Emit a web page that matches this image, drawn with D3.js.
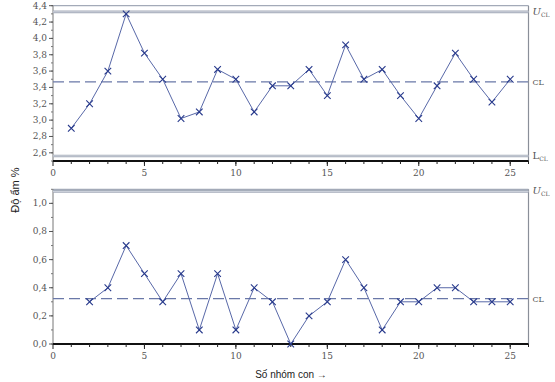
<!DOCTYPE html>
<html><head><meta charset="utf-8">
<script src="https://cdn.jsdelivr.net/npm/d3@7"></script>
<style>body{margin:0;background:#fff}svg{display:block}</style>
</head><body><svg id="c" width="555" height="382"></svg>
<script>
const subgroups = d3.range(1, 26);
const meanValues = [2.9,3.2,3.6,4.3,3.82,3.5,3.02,3.1,3.62,3.5,3.1,3.42,3.42,3.62,3.3,3.92,3.5,3.62,3.3,3.02,3.42,3.82,3.5,3.22,3.5];
const rangeSubgroups = d3.range(2, 26);
const rangeValues = [0.3,0.4,0.7,0.5,0.3,0.5,0.1,0.5,0.1,0.4,0.3,0.0,0.2,0.3,0.6,0.4,0.1,0.3,0.3,0.4,0.4,0.3,0.3,0.3];
const meanLimits = {ucl: 4.325, cl: 3.468, lcl: 2.562};
const rangeLimits = {ucl: 1.085, cl: 0.322};
const meanTicks = [2.6,2.8,3.0,3.2,3.4,3.6,3.8,4.0,4.2,4.4];
const rangeTicks = [0.0,0.2,0.4,0.6,0.8,1.0];
const xTicks = [0,5,10,15,20,25];

const svg = d3.select("#c");
const X0 = 53, X1 = 528.5;
const x = d3.scaleLinear().domain([0, 26]).range([X0, X1]);
const fmt = d => d3.format(".1f")(d).replace(".", ",");
const lineCol = "#5868a8", markCol = "#283a8c", limCol = "#a3aab8";

function panel(yDomain, yRange, ticks, minorStep, xs, vals, lim, showLcl) {
  const y = d3.scaleLinear().domain(yDomain).range(yRange);
  const g = svg.append("g");
  const top = yRange[1], bot = yRange[0];
  g.append("line").attr("x1", X0).attr("x2", X1).attr("y1", top).attr("y2", top).attr("stroke", limCol).attr("stroke-width", 1.2);
  g.append("line").attr("x1", X1).attr("x2", X1).attr("y1", top).attr("y2", bot).attr("stroke", "#8a8f99").attr("stroke-width", 1.2);
  g.append("line").attr("x1", X0).attr("x2", X0).attr("y1", top).attr("y2", bot).attr("stroke", "#777").attr("stroke-width", 1);
  const minors = d3.range(yDomain[0], yDomain[1] + 1e-9, minorStep);
  g.selectAll(".ym").data(minors).join("line").attr("x1", X0 - 2).attr("x2", X0).attr("y1", d => y(d)).attr("y2", d => y(d)).attr("stroke", "#777");
  g.selectAll(".yt").data(ticks).join("line").attr("x1", X0 - 4).attr("x2", X0).attr("y1", d => y(d)).attr("y2", d => y(d)).attr("stroke", "#555");
  g.selectAll(".yl").data(ticks).join("text").attr("x", X0 - 6).attr("y", d => y(d) + 3).attr("text-anchor", "end")
    .attr("font-family", "DejaVu Serif").attr("font-size", 9).attr("fill", "#555").text(fmt);
  const dbl = (v) => {
    g.append("line").attr("x1", X0).attr("x2", X1).attr("y1", y(v)).attr("y2", y(v)).attr("stroke", limCol).attr("stroke-width", 2.6);
    g.append("line").attr("x1", X0).attr("x2", X1).attr("y1", y(v)).attr("y2", y(v)).attr("stroke", "#e4e7ee").attr("stroke-width", 0.7);
  };
  dbl(lim.ucl);
  if (showLcl) dbl(lim.lcl);
  g.append("line").attr("x1", X0).attr("x2", X1).attr("y1", y(lim.cl)).attr("y2", y(lim.cl)).attr("stroke", "#6a78a8").attr("stroke-width", 1.2).attr("stroke-dasharray", "11,5");
  g.append("line").attr("x1", X0).attr("x2", X1).attr("y1", bot).attr("y2", bot).attr("stroke", "#111").attr("stroke-width", 2);
  g.selectAll(".xm").data(d3.range(1, 27)).join("line").attr("x1", d => x(d)).attr("x2", d => x(d)).attr("y1", bot).attr("y2", bot + 3).attr("stroke", "#222");
  g.selectAll(".xt").data(xTicks).join("line").attr("x1", d => x(d)).attr("x2", d => x(d)).attr("y1", bot).attr("y2", bot + 5).attr("stroke", "#222");
  g.selectAll(".xl").data(xTicks).join("text").attr("x", d => x(d)).attr("y", bot + 15).attr("text-anchor", "middle")
    .attr("font-family", "DejaVu Serif").attr("font-size", 9).attr("fill", "#555").text(d => d);
  const pts = xs.map((s, i) => [s, vals[i]]);
  g.append("path").attr("d", d3.line().x(d => x(d[0])).y(d => y(d[1]))(pts)).attr("fill", "none").attr("stroke", lineCol).attr("stroke-width", 1);
  const m = 3.3;
  g.selectAll(".mk").data(pts).join("path").attr("d", d => {
    const cx = x(d[0]), cy = y(d[1]);
    return `M${cx - m},${cy - m}L${cx + m},${cy + m}M${cx - m},${cy + m}L${cx + m},${cy - m}`;
  }).attr("stroke", markCol).attr("stroke-width", 1.1).attr("fill", "none");
  const lab = (v, main, italic) => {
    const t = g.append("text").attr("x", X1 + 4).attr("y", y(v) + 3).attr("font-family", "DejaVu Serif").attr("font-size", 10).attr("fill", "#555");
    const s = t.append("tspan").text(main);
    if (italic) s.attr("font-style", "italic");
    t.append("tspan").attr("font-size", 6).attr("dy", 2).text("CL");
  };
  lab(lim.ucl, "U", true);
  g.append("text").attr("x", X1 + 4).attr("y", y(lim.cl) + 3).attr("font-family", "DejaVu Serif").attr("font-size", 8).attr("fill", "#555").text("CL");
  if (showLcl) lab(lim.lcl, "L", false);
}

panel([2.5, 4.4], [161, 5.7], meanTicks, 0.1, subgroups, meanValues, meanLimits, true);
panel([0, 1.1], [344, 189.3], rangeTicks, 0.1, rangeSubgroups, rangeValues, rangeLimits, false);

svg.append("text").attr("transform", "translate(19,190) rotate(-90)").attr("text-anchor", "middle")
  .attr("font-family", "Liberation Sans").attr("font-size", 11).attr("fill", "#222").text("Độ ẩm %");
svg.append("text").attr("x", 291).attr("y", 378).attr("text-anchor", "middle")
  .attr("font-family", "Liberation Sans").attr("font-size", 10).attr("fill", "#222").text("Số nhóm con →");
</script></body></html>
